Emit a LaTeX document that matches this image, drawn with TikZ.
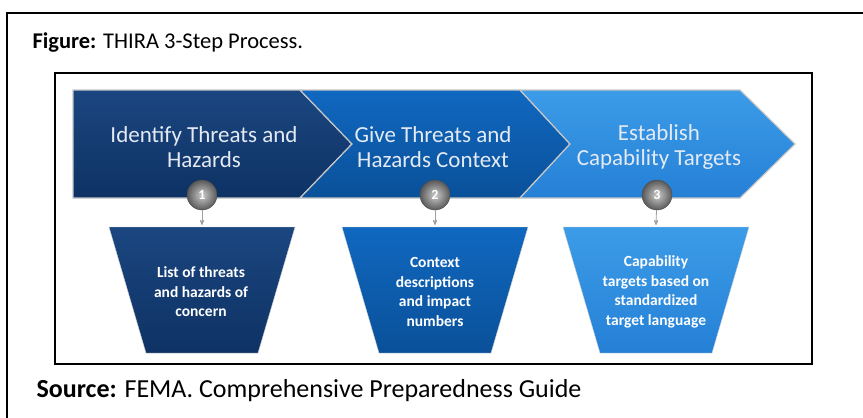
\documentclass[tikz,border=0pt]{standalone}
\usepackage{fontspec}
\setmainfont{Carlito}
\usetikzlibrary{arrows}

\definecolor{navytop}{HTML}{1B4680}
\definecolor{navybot}{HTML}{0E3264}
\definecolor{midtop}{HTML}{1068C0}
\definecolor{midbot}{HTML}{0A5099}
\definecolor{skytop}{HTML}{3C9CE8}
\definecolor{skybot}{HTML}{2580D6}
\definecolor{paletext}{HTML}{E4EAF3}

\begin{document}
\begin{tikzpicture}[x=1pt, y=-1pt,
    >=stealth',
    steplabel/.style = {
      text = paletext,
      font = \fontsize{23}{25.5}\selectfont,
      align = center
    },
    outcome/.style = {
      text = white,
      font = \fontsize{15.5}{19.5}\selectfont\bfseries,
      align = center
    },
    badge/.style = {
      circle,
      draw = gray!60!black,
      inner color = gray!40,
      outer color = gray!70!black,
      text = white,
      font = \fontsize{14}{14}\selectfont\bfseries,
      minimum size = 30pt,
      inner sep = 0pt
    },
    feed/.style = {->, gray!75, thick}
  ]
  \useasboundingbox (0,0) rectangle (863,418);

  % frames
  \draw[line width=2pt] (7,418) -- (7,13) -- (863,13);
  \draw[line width=1.3pt] (55,73) rectangle (812,364);

  \node[anchor=base west, font=\fontsize{22.5}{26}\selectfont] (title) at (29,48)
    {\textbf{Figure:} THIRA 3-Step Process.};
  \node[anchor=base west, font=\fontsize{26}{30}\selectfont] (source) at (33,397)
    {\textbf{Source:} FEMA. Comprehensive Preparedness Guide};

  % chevrons
  \shade[top color=navytop, bottom color=navybot, draw=gray!45, line width=1.2pt]
    (73,90) -- (300,90) -- (352,144) -- (300,198) -- (73,198) -- cycle;
  \shade[top color=midtop, bottom color=midbot, draw=gray!45, line width=1.2pt]
    (300,90) -- (520,90) -- (570,144) -- (520,198) -- (300,198) -- (352,144) -- cycle;
  \shade[top color=skytop, bottom color=skybot, draw=gray!45, line width=1.2pt]
    (520,90) -- (740,90) -- (795,144) -- (740,198) -- (520,198) -- (570,144) -- cycle;

  \node[steplabel] (identify) at (204,147) {Identify Threats and\\Hazards};
  \node[steplabel] (context) at (433,147) {Give Threats and\\Hazards Context};
  \node[steplabel] (targets) at (659,147) {Establish\\Capability Targets};

  % outcomes
  \shade[top color=navytop, bottom color=navybot, draw=gray!35]
    (109,227) -- (295,227) -- (258,353) -- (146,353) -- cycle;
  \shade[top color=midtop, bottom color=midbot, draw=gray!35]
    (342,227) -- (528,227) -- (491,353) -- (379,353) -- cycle;
  \shade[top color=skytop, bottom color=skybot, draw=gray!35]
    (563,227) -- (749,227) -- (712,353) -- (600,353) -- cycle;

  \node[outcome] (list) at (201,292) {List of threats\\and hazards of\\concern};
  \node[outcome] (impact) at (435,292) {Context\\descriptions\\and impact\\numbers};
  \node[outcome] (language) at (656,292) {Capability\\targets based on\\standardized\\target language};

  % step badges
  \coordinate (top1) at (202,225);
  \coordinate (top2) at (435,225);
  \coordinate (top3) at (656,225);

  \node[badge] (one) at (202,195) {1};
  \node[badge] (two) at (435,195) {2};
  \node[badge] (three) at (657,195) {3};

  \draw[feed] (one) -- (top1);
  \draw[feed] (two) -- (top2);
  \draw[feed] (three) -- (top3);
\end{tikzpicture}
\end{document}
